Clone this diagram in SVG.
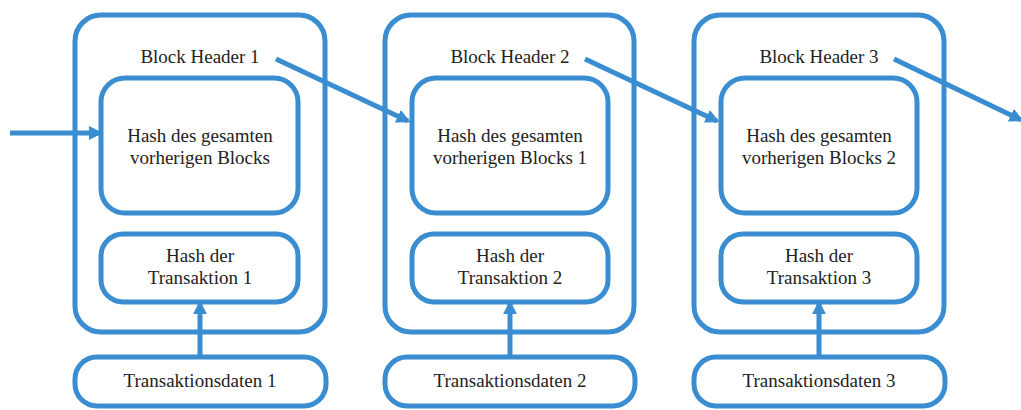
<svg xmlns="http://www.w3.org/2000/svg" width="1021" height="410" viewBox="0 0 1021 410">
<defs>
<style>
.box{fill:none;stroke:#3a8dd0;stroke-width:5}
.t{font-family:'Liberation Serif','Times New Roman',serif;font-size:19px;fill:#222;text-anchor:middle}
.c{stroke:#3a8dd0;stroke-width:5;fill:none}
</style>
<marker id="ah" viewBox="0 0 10 10" refX="8" refY="5" markerWidth="2.8" markerHeight="2.8" orient="auto" markerUnits="strokeWidth">
<path d="M0,0 L10,5 L0,10 z" fill="#3a8dd0"/>
</marker>
</defs>
<rect width="1021" height="410" fill="#fff"/>
<g id="block1">
<rect class="box" x="75" y="15" width="250" height="317" rx="26"/>
<text class="t" x="200" y="63">Block Header 1</text>
</g>
<g id="hash1"><rect class="box" x="101" y="78" width="197" height="135" rx="24"/>
<text class="t" x="200" y="142">Hash des gesamten</text><text class="t" x="200" y="164">vorherigen Blocks</text></g>
<g id="tx1"><rect class="box" x="101" y="234" width="197" height="68" rx="22"/>
<text class="t" x="200" y="262">Hash der</text><text class="t" x="200" y="284">Transaktion 1</text></g>
<g id="data1"><rect class="box" x="75" y="357" width="251" height="49" rx="22"/>
<text class="t" x="200" y="387">Transaktionsdaten 1</text></g>

<g id="block2">
<rect class="box" x="385" y="15" width="249" height="317" rx="26"/>
<text class="t" x="510" y="63">Block Header 2</text>
</g>
<g id="hash2"><rect class="box" x="412" y="78" width="196" height="135" rx="24"/>
<text class="t" x="510" y="142">Hash des gesamten</text><text class="t" x="510" y="164">vorherigen Blocks 1</text></g>
<g id="tx2"><rect class="box" x="412" y="234" width="196" height="68" rx="22"/>
<text class="t" x="510" y="262">Hash der</text><text class="t" x="510" y="284">Transaktion 2</text></g>
<g id="data2"><rect class="box" x="385" y="357" width="250" height="49" rx="22"/>
<text class="t" x="510" y="387">Transaktionsdaten 2</text></g>

<g id="block3">
<rect class="box" x="694" y="15" width="250" height="317" rx="26"/>
<text class="t" x="819" y="63">Block Header 3</text>
</g>
<g id="hash3"><rect class="box" x="721" y="78" width="196" height="135" rx="24"/>
<text class="t" x="819" y="142">Hash des gesamten</text><text class="t" x="819" y="164">vorherigen Blocks 2</text></g>
<g id="tx3"><rect class="box" x="721" y="234" width="196" height="68" rx="22"/>
<text class="t" x="819" y="262">Hash der</text><text class="t" x="819" y="284">Transaktion 3</text></g>
<g id="data3"><rect class="box" x="694" y="357" width="251" height="49" rx="22"/>
<text class="t" x="819" y="387">Transaktionsdaten 3</text></g>

<g id="connectors">
<line class="c" x1="10" y1="133" x2="100" y2="133" marker-end="url(#ah)"/>
<line class="c" x1="276" y1="59" x2="408" y2="121" marker-end="url(#ah)"/>
<line class="c" x1="585" y1="59" x2="717" y2="121" marker-end="url(#ah)"/>
<line class="c" x1="894" y1="59" x2="1021" y2="120" marker-end="url(#ah)"/>
<line class="c" x1="200" y1="357" x2="200" y2="303" marker-end="url(#ah)"/>
<line class="c" x1="510" y1="357" x2="510" y2="303" marker-end="url(#ah)"/>
<line class="c" x1="819" y1="357" x2="819" y2="303" marker-end="url(#ah)"/>
</g>
</svg>
